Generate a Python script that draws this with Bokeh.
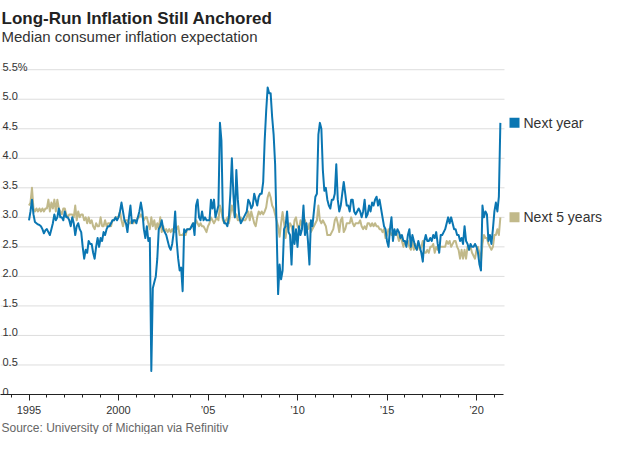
from bokeh.plotting import figure
from bokeh.models import Range1d, FixedTicker, Title
from bokeh.core.properties import value
from bokeh.embed import file_html
from bokeh.resources import INLINE

# ---------------- data (monthly, Jan 1995 - May 2021) ----------------
START_YEAR = 1995

next_year = [
    2.95, 3.1, 3.3, 3.05, 2.92, 2.9, 2.88, 2.87, 2.85, 2.8, 2.73, 2.78,      # 1995
    2.8, 2.75, 2.7, 2.8, 2.9, 3.05, 2.95, 3.0, 3.15, 3.0, 3.0, 2.95,         # 1996
    3.1, 3.0, 3.0, 2.95, 2.85, 3.0, 2.9, 2.7, 2.85, 2.9, 2.8, 2.75,          # 1997
    2.5, 2.3, 2.45, 2.4, 2.6, 2.55, 2.55, 2.4, 2.3, 2.5, 2.65, 2.5,          # 1998
    2.65, 2.6, 2.75, 2.7, 2.8, 2.85, 2.85, 2.9, 2.95, 2.95, 3.0, 2.95,       # 1999
    3.0, 3.1, 3.25, 3.1, 2.95, 2.9, 2.75, 3.0, 3.2, 2.9, 2.95, 2.95,         # 2000
    2.9, 3.0, 3.1, 3.25, 3.1, 2.8, 2.65, 2.85, 2.6, 2.65, 0.4, 1.8,          # 2001
    1.9, 2.0, 2.3, 2.8, 2.85, 2.95, 2.8, 2.75, 2.7, 2.6, 2.5, 2.45,          # 2002
    2.55, 2.75, 3.1, 2.6, 2.3, 2.1, 2.15, 1.75, 2.8, 2.75, 2.8, 2.8,         # 2003
    2.8, 2.85, 2.9, 2.7, 3.2, 3.3, 3.0, 2.95, 3.1, 2.95, 3.0, 2.95,          # 2004
    2.95, 2.95, 3.3, 3.15, 3.3, 3.0, 3.1, 3.2, 4.6, 4.3, 3.0, 2.9,           # 2005
    2.9, 2.85, 3.0, 3.4, 4.0, 3.4, 3.0, 3.8, 3.3, 3.0, 2.9, 2.95,            # 2006
    3.0, 3.05, 3.1, 3.3, 3.25, 3.15, 3.2, 3.4, 3.3, 3.2, 3.35, 3.4,          # 2007
    3.4, 3.6, 4.3, 4.8, 5.2, 5.1, 5.1, 4.7, 4.4, 3.9, 2.8, 1.7,              # 2008
    2.2, 1.95, 2.1, 2.8, 2.85, 3.1, 2.75, 2.7, 2.2, 2.85, 2.55, 2.8,         # 2009
    2.5, 2.85, 2.7, 2.8, 3.2, 2.7, 2.9, 2.6, 2.2, 2.95, 2.85, 3.1,           # 2010
    3.35, 3.4, 4.4, 4.6, 4.5, 3.8, 3.45, 3.5, 3.3, 3.2, 3.15, 3.3,           # 2011
    3.3, 3.4, 3.9, 3.3, 3.1, 3.2, 3.4, 3.6, 3.4, 3.2, 3.2, 3.1,              # 2012
    3.3, 3.3, 3.1, 3.05, 3.1, 3.15, 3.1, 3.0, 3.1, 3.3, 3.0, 3.05,           # 2013
    3.2, 3.1, 3.25, 3.2, 3.3, 3.35, 3.2, 3.3, 3.15, 3.0, 2.85, 2.8,          # 2014
    2.6, 2.5, 2.8, 3.0, 2.6, 2.8, 2.7, 2.8, 2.75, 2.65, 2.7, 2.6,            # 2015
    2.6, 2.5, 2.7, 2.8, 2.5, 2.7, 2.6, 2.5, 2.45, 2.6, 2.5, 2.4,             # 2016
    2.25, 2.6, 2.7, 2.6, 2.6, 2.65, 2.6, 2.7, 2.65, 2.75, 2.55, 2.4,         # 2017
    2.7, 2.7, 2.75, 2.8, 2.9, 3.0, 2.9, 3.0, 2.9, 2.8, 2.8, 2.7,             # 2018
    2.7, 2.6, 2.65, 2.55, 2.85, 2.6, 2.55, 2.45, 2.55, 2.5, 2.5, 2.55,       # 2019
    2.5, 2.4, 2.2, 2.1, 3.2, 3.0, 3.1, 3.05, 2.6, 2.7, 2.55, 2.8,            # 2020
    3.1, 3.25, 3.1, 3.35, 4.6,                                               # 2021
]

next_5_years = [
    3.2, 3.25, 3.5, 3.15, 3.1, 3.15, 3.1, 3.15, 3.1, 3.15, 3.1, 3.15,        # 1995
    3.15, 3.3, 3.1, 3.25, 3.15, 3.3, 3.1, 3.3, 3.15, 3.1, 3.05, 3.15,        # 1996
    3.15, 3.05, 3.0, 3.05, 3.05, 3.05, 3.0, 3.2, 2.95, 3.1, 3.0, 3.05,       # 1997
    3.05, 2.95, 3.0, 2.9, 3.0, 2.9, 2.95, 2.85, 2.8, 2.9, 2.85, 2.85,        # 1998
    3.0, 2.85, 2.85, 2.95, 2.85, 2.9, 2.9, 2.85, 2.95, 2.95, 3.0, 3.0,       # 1999
    3.0, 3.1, 2.95, 2.85, 2.95, 2.95, 2.95, 2.9, 2.9, 2.95, 2.9, 2.95,       # 2000
    2.95, 3.0, 3.0, 3.05, 3.0, 2.95, 3.0, 3.0, 2.9, 2.8, 3.0, 2.85,          # 2001
    2.95, 2.8, 2.9, 2.8, 3.0, 2.75, 2.85, 2.75, 2.8, 2.75, 2.8, 2.75,        # 2002
    2.8, 2.75, 2.75, 2.8, 2.85, 2.7, 2.7, 2.7, 2.75, 2.7, 2.8, 2.8,          # 2003
    2.8, 2.85, 2.9, 2.85, 2.95, 2.9, 2.85, 2.9, 2.85, 2.85, 2.8, 2.75,       # 2004
    2.85, 2.9, 3.0, 2.95, 2.9, 2.95, 3.0, 2.95, 3.2, 3.1, 2.95, 2.9,         # 2005
    2.95, 3.0, 2.9, 3.05, 3.2, 3.1, 3.0, 3.05, 2.95, 2.95, 3.0, 2.95,        # 2006
    2.95, 2.95, 3.0, 3.1, 2.95, 3.1, 3.0, 2.9, 2.85, 3.0, 3.1, 3.05,         # 2007
    3.1, 3.05, 3.1, 3.17, 3.34, 3.42, 3.34, 3.2, 3.15, 3.05, 2.95, 2.85,     # 2008
    2.67, 2.9, 3.09, 2.9, 2.65, 2.85, 2.8, 2.9, 2.85, 2.73, 2.95, 3.0,       # 2009
    2.85, 2.8, 2.95, 2.85, 3.0, 2.95, 2.85, 2.8, 2.9, 2.75, 2.8, 2.85,       # 2010
    2.9, 2.95, 3.2, 2.95, 2.9, 2.95, 2.9, 2.85, 2.7, 2.7, 2.7, 2.75,         # 2011
    2.8, 2.95, 3.0, 2.9, 2.75, 2.95, 3.0, 2.75, 2.8, 2.9, 2.9, 2.9,          # 2012
    3.0, 2.9, 2.85, 2.9, 2.9, 2.9, 2.95, 2.85, 2.8, 2.85, 2.8, 2.9,          # 2013
    2.9, 2.85, 2.9, 2.85, 2.9, 2.85, 2.85, 2.8, 2.8, 2.75, 2.8, 2.65,        # 2014
    2.7, 2.8, 2.75, 2.7, 2.75, 2.7, 2.75, 2.7, 2.6, 2.7, 2.6, 2.5,           # 2015
    2.6, 2.55, 2.6, 2.5, 2.45, 2.6, 2.45, 2.55, 2.45, 2.55, 2.45, 2.5,       # 2016
    2.6, 2.4, 2.4, 2.45, 2.4, 2.5, 2.5, 2.55, 2.4, 2.5, 2.45, 2.5,           # 2017
    2.5, 2.5, 2.5, 2.5, 2.6, 2.55, 2.6, 2.5, 2.55, 2.6, 2.6, 2.5,            # 2018
    2.45, 2.3, 2.45, 2.3, 2.45, 2.3, 2.5, 2.45, 2.5, 2.4, 2.35, 2.3,         # 2019
    2.45, 2.5, 2.4, 2.25, 2.55, 2.7, 2.65, 2.65, 2.55, 2.5, 2.45, 2.5,       # 2020
    2.7, 2.7, 2.8, 2.7, 3.0,                                                 # 2021
]

series_names = ["Next year", "Next 5 years"]
y_ticks = [0, 0.5, 1.0, 1.5, 2.0, 2.5, 3.0, 3.5, 4.0, 4.5, 5.0, 5.5]
y_tick_labels = ["0", "0.5", "1.0", "1.5", "2.0", "2.5", "3.0", "3.5", "4.0", "4.5", "5.0", "5.5%"]
x_major_ticks = [1995, 2000, 2005, 2010, 2015, 2020]
x_major_labels = ["1995", "2000", "\u201905", "\u201910", "\u201915", "\u201920"]
x_minor_ticks = list(range(1994, 2022))

dates = [START_YEAR + i / 12 for i in range(len(next_year))]

# ---------------- layout (pixel positions inside the figure) ----------------
W, H = 604, 434
PX_YEAR = 17.9           # horizontal pixels per year
X2000 = 118.0            # x of year 2000
PX_UNIT = 59.8           # vertical pixels per percentage point
Y0 = 399                 # y of the zero line (frame bottom)
BOTTOM = H - Y0          # space below the frame for axis + source


def xv(px):
    return 2000 + (px - X2000) / PX_YEAR


def yv(py):
    return (Y0 - py) / PX_UNIT


BLUE = "#0a76b2"
TAN = "#c1b98a"
FONT = "Liberation Sans"

p = figure(
    width=W, height=H,
    x_range=Range1d(xv(0), xv(W)),
    y_range=Range1d(0, yv(0)),
    output_backend="svg", toolbar_location=None, tools="",
    x_axis_location="below", y_axis_location=None,
    min_border_left=0, min_border_right=0, min_border_top=0,
    min_border_bottom=BOTTOM,
    outline_line_color=None,
    background_fill_color="white", border_fill_color="white",
)
p.grid.visible = False

# horizontal gridlines
grid_vals = [t for t in y_ticks if t > 0]
p.segment(x0=[xv(0)] * len(grid_vals), y0=grid_vals,
          x1=[xv(504)] * len(grid_vals), y1=grid_vals,
          line_color="#dddddd", line_width=1)

# y tick labels above the gridlines
p.text(x=[xv(2)] * len(y_ticks), y=y_ticks, text=y_tick_labels,
       text_font=value(FONT), text_font_size="11px", text_color="#333333",
       text_align="left", text_baseline="alphabetic", y_offset=-3)

# x axis
ax = p.xaxis[0]
ax.ticker = FixedTicker(ticks=x_major_ticks, minor_ticks=x_minor_ticks)
ax.major_label_overrides = {t: l for t, l in zip(x_major_ticks, x_major_labels)}
ax.bounds = (xv(0), xv(503))
ax.axis_line_color = "#222222"
ax.axis_line_width = 1
ax.major_tick_line_color = "#222222"
ax.minor_tick_line_color = "#222222"
ax.major_tick_in = 0
ax.major_tick_out = 6
ax.minor_tick_in = 0
ax.minor_tick_out = 3
ax.major_label_standoff = 3
ax.major_label_text_font = FONT
ax.major_label_text_font_size = "11px"
ax.major_label_text_color = "#333333"

# lines
p.line(dates, next_5_years, line_color=TAN, line_width=2, line_join="round")
p.line(dates, next_year, line_color=BLUE, line_width=2, line_join="round")

# end-of-line legend
last_vals = [next_year[-1], next_5_years[-1]]
p.scatter(x=[xv(514)] * 2, y=last_vals, marker="square", size=10,
          fill_color=[BLUE, TAN], line_color=None)
p.text(x=[xv(523)] * 2, y=last_vals, text=series_names,
       text_font=value(FONT), text_font_size="14px", text_color="#333333",
       text_align="left", text_baseline="middle")

# title and subtitle
p.text(x=[xv(1)], y=[yv(18)], text=["Long-Run Inflation Still Anchored"],
       text_font=value(FONT), text_font_style="bold", text_font_size="17px",
       text_color="#222222", text_align="left", text_baseline="alphabetic")
p.text(x=[xv(1)], y=[yv(36)], text=["Median consumer inflation expectation"],
       text_font=value(FONT), text_font_size="15px",
       text_color="#333333", text_align="left", text_baseline="alphabetic")

# source
src = Title(text="Source: University of Michigan via Refinitiv", align="left",
            text_font=FONT, text_font_size="12px", text_color="#666666",
            text_font_style="normal", standoff=0, offset=1)
p.add_layout(src, "below")

open("out.html", "w").write(file_html(p, INLINE))
